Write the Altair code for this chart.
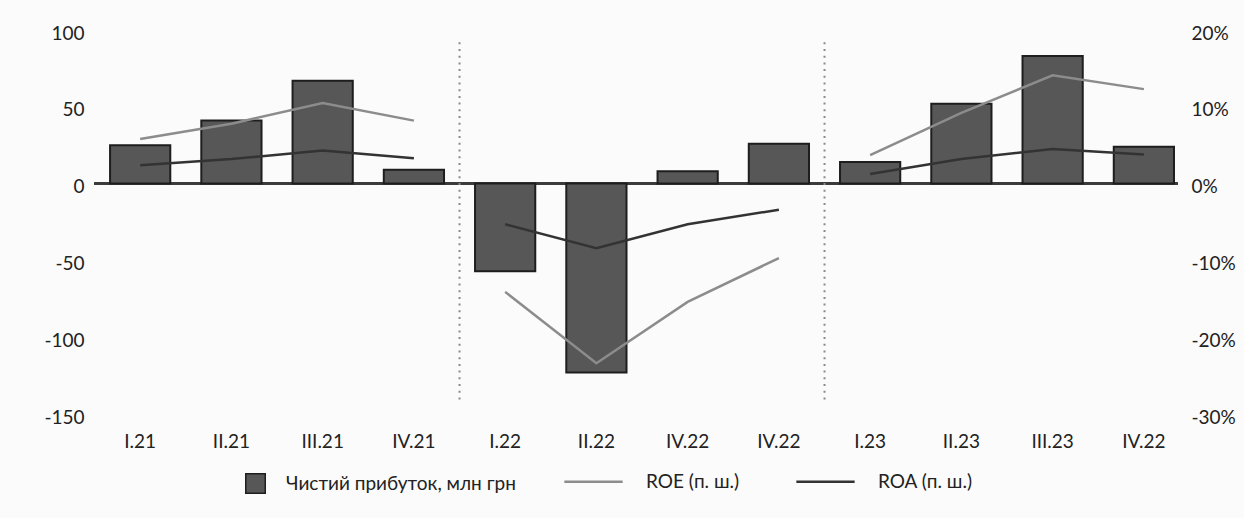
import json
import altair as alt
import pandas as pd

# Quarterly results: net profit (left axis, mln UAH) and ROE / ROA (right axis, %)
quarters = ["I.21", "II.21", "III.21", "IV.21", "I.22", "II.22",
            "IV.22", "IV.22", "I.23", "II.23", "III.23", "IV.22"]
years = [2021, 2021, 2021, 2021, 2022, 2022, 2022, 2022, 2023, 2023, 2023, 2023]
net_profit = [25, 41, 67, 9, -57, -123, 8, 26, 14, 52, 83, 24]
roe = [5.8, 7.8, 10.5, 8.2, -14.1, -23.4, -15.4, -9.7, 3.7, 9.2, 14.1, 12.3]
roa = [2.4, 3.2, 4.3, 3.3, -5.3, -8.4, -5.3, -3.4, 1.25, 3.2, 4.5, 3.8]
year_breaks = [4, 8]  # first quarter of each new year

profit_label = "Чистий прибуток, млн грн"
roe_label = "ROE (п. ш.)"
roa_label = "ROA (п. ш.)"

left_ticks = [100, 50, 0, -50, -100, -150]
right_ticks = [20, 10, 0, -10, -20, -30]

FONT = "Lato"
TEXT = "#222222"
FS = 19

idx = list(range(len(quarters)))
bars_df = pd.DataFrame({"idx": idx, "profit": net_profit, "series": profit_label})
lines_df = pd.concat([
    pd.DataFrame({"idx": idx, "year": years, "value": roe, "series": roe_label}),
    pd.DataFrame({"idx": idx, "year": years, "value": roa, "series": roa_label}),
])
breaks_df = pd.DataFrame({"idx": year_breaks})

x_axis = alt.Axis(
    title=None, labelAngle=0, tickSize=0, domain=False, bandPosition=0.5,
    labelAlign="center", labelExpr=json.dumps(quarters) + "[datum.value]",
    labelPadding=18, labelFontSize=FS,
)
x_scale = alt.Scale(paddingInner=0.34, paddingOuter=0.11, align=0.8)
x_enc = alt.X("idx:O", scale=x_scale, axis=x_axis)

left_scale = alt.Scale(domain=[-150, 100], nice=False, zero=False)

zero_line = alt.Chart(bars_df).mark_rule(color="#3a3a3a", strokeWidth=1.5).encode(
    y=alt.datum(0, scale=left_scale)
)

breaks = alt.Chart(breaks_df).mark_rule(
    color="#8a8a8a", strokeWidth=2, strokeDash=[2, 4.7], xOffset=-15.5
).encode(
    x=alt.X("idx:O", bandPosition=0, axis=x_axis),
    y=alt.datum(92),
    y2=alt.datum(-141),
)

bars = alt.Chart(bars_df).mark_bar(stroke="#1e1e1e", strokeWidth=2).encode(
    x=x_enc,
    y=alt.Y(
        "profit:Q", scale=left_scale,
        axis=alt.Axis(values=left_ticks, title=None, grid=False, domain=False,
                      tickSize=0, labelPadding=10, labelFontSize=FS, labelOffset=3,
                      labelExpr="datum.value + ''"),
    ),
    fill=alt.Fill(
        "series:N",
        scale=alt.Scale(domain=[profit_label], range=["#575757"]),
        legend=alt.Legend(
            title=None, orient="none", legendX=151, legendY=443,
            symbolType="square", symbolSize=380, symbolStrokeColor="#1e1e1e",
            symbolStrokeWidth=1.5, labelOffset=20, labelFontSize=FS,
            labelLimit=400,
        ),
    ),
)

lines = alt.Chart(lines_df).mark_line(strokeWidth=2.5).encode(
    x=alt.X("idx:O", axis=x_axis),
    y=alt.Y(
        "value:Q",
        scale=alt.Scale(domain=[-30, 20], nice=False, zero=False),
        axis=alt.Axis(orient="right", values=right_ticks, title=None, grid=False,
                      domain=False, tickSize=0, labelPadding=13, labelFontSize=FS,
                      labelOffset=3, labelExpr="datum.value + '%'"),
    ),
    detail="year:N",
    stroke=alt.Stroke(
        "series:N",
        scale=alt.Scale(domain=[roe_label, roa_label], range=["#8c8c8c", "#333333"]),
        legend=alt.Legend(
            title=None, orient="none", direction="horizontal",
            legendX=469, legendY=421, symbolType="stroke", symbolSize=3400,
            symbolStrokeWidth=2.5, labelOffset=22, columnPadding=52,
            labelFontSize=FS, labelLimit=300,
        ),
    ),
)

left = alt.layer(zero_line, breaks, bars)

chart = alt.layer(left, lines).resolve_scale(
    y="independent", fill="independent", stroke="independent"
).properties(
    width=1084, height=384,
    autosize=alt.AutoSizeParams(type="none"),
    padding={"left": 94, "top": 30, "right": 66, "bottom": 104},
    background="#fbfbfb",
).configure_view(
    stroke=None
).configure_axis(
    labelFont=FONT, labelColor=TEXT
).configure_legend(
    labelFont=FONT, labelColor=TEXT
)

chart.save("out.html", embed_options={"renderer": "svg", "actions": False})
